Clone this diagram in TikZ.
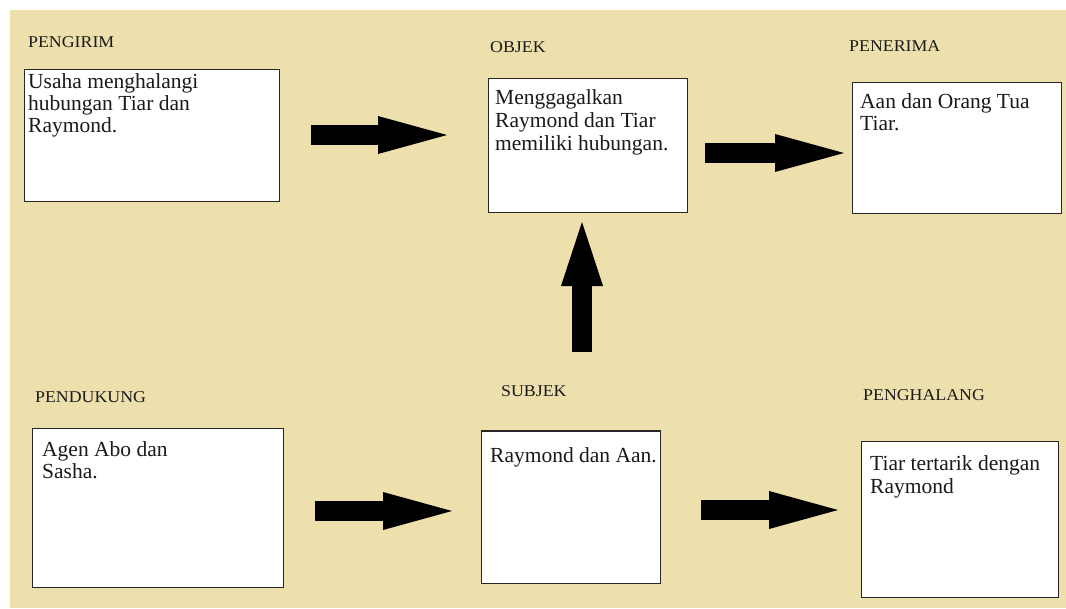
\documentclass[tikz,border=0pt]{standalone}
\usepackage{fontspec}
\setmainfont{Liberation Serif}
\newfontfamily\boxfont{Liberation Serif}
\newfontfamily\labelfont[FakeStretch=1.08]{Liberation Serif}
\usetikzlibrary{arrows.meta}
\definecolor{paper}{HTML}{EDE0AC}
\definecolor{ink}{HTML}{1A1A1A}
\definecolor{frame}{HTML}{262626}
\tikzset{
  boxframe/.style={draw=frame, line width=1.4pt, fill=white, inner sep=0pt, anchor=north west},
  boxtext/.style={anchor=north west, align=left, inner sep=0pt, text=ink,
    font=\boxfont\fontsize{21.5}{22}\selectfont},
  rolelabel/.style={anchor=west, inner sep=0pt, text=ink,
    font=\labelfont\fontsize{16.5}{18}\selectfont},
  blockarrow/.style={line width=20pt, line cap=butt,
    -{Triangle[length=69pt, width=38pt, line width=0pt]}}
}
\begin{document}
\begin{tikzpicture}[x=1pt, y=-1pt]
  \useasboundingbox (0,0) rectangle (1066,608);
  \fill[white] (0,0) rectangle (1066,608);
  \fill[paper] (10,10) rectangle (1066,608);

  % role labels
  \node[rolelabel] (lpengirim)   at (28,42)  {PENGIRIM};
  \node[rolelabel] (lobjek)      at (490,47) {OBJEK};
  \node[rolelabel] (lpenerima)   at (849,46) {PENERIMA};
  \node[rolelabel] (lpendukung)  at (35,397) {PENDUKUNG};
  \node[rolelabel] (lsubjek)     at (501,391) {SUBJEK};
  \node[rolelabel] (lpenghalang) at (863,395) {PENGHALANG};

  % boxes
  \node[boxframe, minimum width=255pt, minimum height=132pt] (pengirim)   at (24,69)  {};
  \node[boxframe, minimum width=199pt, minimum height=134pt] (objek)      at (488,78) {};
  \node[boxframe, minimum width=209pt, minimum height=131pt] (penerima)   at (852,82) {};
  \node[boxframe, minimum width=251pt, minimum height=159pt] (pendukung)  at (32,428) {};
  \node[boxframe, minimum width=179pt, minimum height=152pt] (subjek)     at (481,431) {};
  \node[boxframe, minimum width=197pt, minimum height=156pt] (penghalang) at (861,441) {};
  \draw[frame, line width=2.6pt] (subjek.north west) -- (subjek.north east);

  % box texts
  \node[boxtext] (tpengirim) at ([shift={(4,4)}]pengirim.north west)
    {\strut Usaha menghalangi\\hubungan Tiar dan\\Raymond.};
  \node[boxtext, font=\boxfont\fontsize{21.5}{23}\selectfont] (tobjek)
    at ([shift={(7,10)}]objek.north west)
    {\strut Menggagalkan\\Raymond dan Tiar\\memiliki hubungan.};
  \node[boxtext] (tpenerima) at ([shift={(8,11)}]penerima.north west)
    {\strut Aan dan Orang Tua\\Tiar.};
  \node[boxtext] (tpendukung) at ([shift={(10,13)}]pendukung.north west)
    {\strut Agen Abo dan\\Sasha.};
  \node[boxtext] (tsubjek) at ([shift={(9,16)}]subjek.north west)
    {\strut Raymond dan Aan.};
  \node[boxtext, font=\boxfont\fontsize{21.5}{23}\selectfont] (tpenghalang)
    at ([shift={(9,13)}]penghalang.north west)
    {\strut Tiar tertarik dengan\\Raymond};

  % arrow ends
  \coordinate (a1s) at (311,135);  \coordinate (a1e) at (447,135);
  \coordinate (a2s) at (705,153);  \coordinate (a2e) at (844,153);
  \coordinate (a3s) at (582,352);  \coordinate (a3e) at (582,222);
  \coordinate (a4s) at (315,511);  \coordinate (a4e) at (452,511);
  \coordinate (a5s) at (701,510);  \coordinate (a5e) at (838,510);

  % block arrows
  \draw[blockarrow] (a1s) -- (a1e);
  \draw[blockarrow] (a2s) -- (a2e);
  \draw[blockarrow, -{Triangle[length=64pt, width=42pt, line width=0pt]}] (a3s) -- (a3e);
  \draw[blockarrow] (a4s) -- (a4e);
  \draw[blockarrow] (a5s) -- (a5e);
\end{tikzpicture}
\end{document}
